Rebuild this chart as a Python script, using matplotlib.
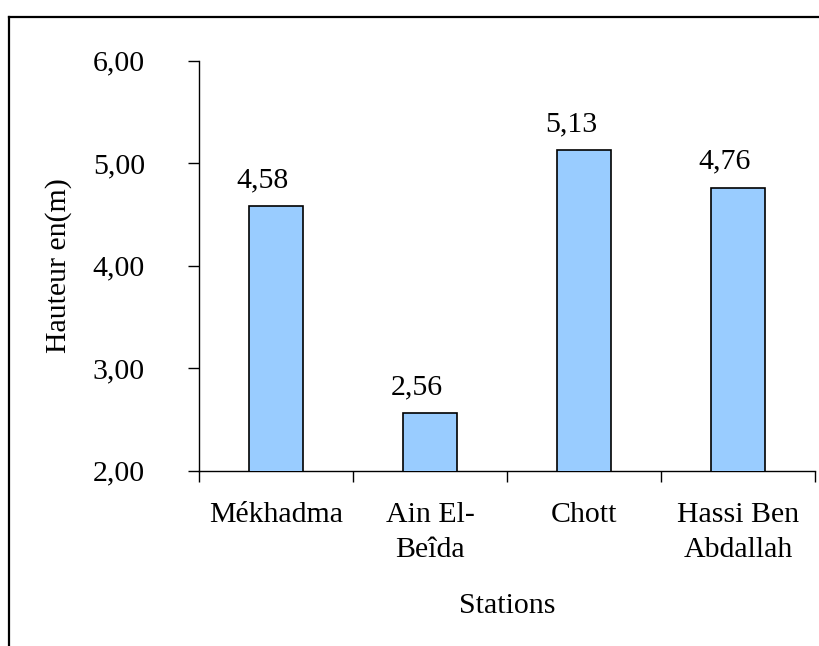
import matplotlib.pyplot as plt
from matplotlib.ticker import FuncFormatter
from matplotlib.lines import Line2D

stations = ['Mékhadma', 'Ain El-\nBeîda', 'Chott', 'Hassi Ben\nAbdallah']
hauteurs = [4.58, 2.56, 5.13, 4.76]
y_ticks = [2, 3, 4, 5, 6]

plt.rcParams['font.family'] = ['Liberation Serif', 'DejaVu Serif']
plt.rcParams['font.size'] = 21.5


def virgule(v, pos=None):
    return f'{v:.2f}'.replace('.', ',')


fig = plt.figure(figsize=(8.19, 6.46), dpi=100)
ax = fig.add_axes([199 / 819, 1 - 470.5 / 646, 616 / 819, 410 / 646])

x = range(len(stations))
ax.bar(x, hauteurs, width=0.35, color='#99CCFF',
       edgecolor='black', linewidth=1.2, zorder=3)

# valeurs au-dessus des barres
for xi, h in zip(x, hauteurs):
    ax.annotate(virgule(h), (xi, h), xytext=(-9.4, 13.5),
                textcoords='offset points', ha='center', va='baseline')

ax.set_xlim(-0.5, len(stations) - 0.5)
ax.set_ylim(2, 6)
ax.set_yticks(y_ticks)
ax.yaxis.set_major_formatter(FuncFormatter(virgule))

ax.set_xticks([i + 0.5 for i in range(-1, len(stations))])
ax.set_xticklabels([])
ax.set_xticks(list(x), minor=True)
ax.set_xticklabels(stations, minor=True, linespacing=1.45)
ax.tick_params(axis='x', which='minor', length=0, pad=23)
ax.tick_params(axis='x', which='major', length=8, direction='out', width=1)
ax.tick_params(axis='y', length=8, direction='out', width=1, pad=31)

for s in ['top', 'right']:
    ax.spines[s].set_visible(False)
for s in ['left', 'bottom']:
    ax.spines[s].set_linewidth(1)

ax.set_ylabel('Hauteur en(m)', labelpad=15)
ax.set_xlabel('Stations', labelpad=21)

# cadre extérieur (bords gauche et haut)
fig.lines.append(Line2D([9 / 819, 9 / 819], [0, 1 - 17 / 646],
                        transform=fig.transFigure, color='black', lw=1.6))
fig.lines.append(Line2D([9 / 819, 1.0], [1 - 17 / 646, 1 - 17 / 646],
                        transform=fig.transFigure, color='black', lw=1.6))

fig.savefig('out.png', dpi=100)
